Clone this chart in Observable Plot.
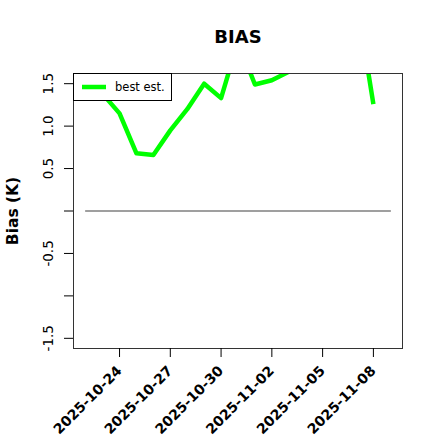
<!DOCTYPE html>
<html>
<head>
<meta charset="utf-8">
<script src="https://cdn.jsdelivr.net/npm/d3@7"></script>
<script src="https://cdn.jsdelivr.net/npm/@observablehq/plot@0.6"></script>
<style>
  html, body { margin: 0; padding: 0; background: #fff; }
  #chart { width: 440px; height: 440px; }
</style>
</head>
<body>
<div id="chart"></div>
<script>
// ---- data ----
const dates = ["2025-10-22","2025-10-23","2025-10-24","2025-10-25","2025-10-26","2025-10-27",
  "2025-10-28","2025-10-29","2025-10-30","2025-10-31","2025-11-01","2025-11-02",
  "2025-11-03","2025-11-04","2025-11-05","2025-11-06","2025-11-07","2025-11-08"];
const bias = [1.55, 1.38, 1.15, 0.68, 0.66, 0.95, 1.20, 1.50, 1.33, 2.00, 1.49, 1.54,
  1.64, 1.90, 2.10, 2.30, 2.50, 1.26];
const zeroDates = ["2025-10-22", "2025-11-09"];
const zeroValues = [0, 0];
const yTicks = [-1.5, -1, -0.5, 0, 0.5, 1, 1.5];
const yTickLabels = ["-1.5", "", "-0.5", "", "0.5", "1.0", "1.5"];
const xTicks = ["2025-10-24","2025-10-27","2025-10-30","2025-11-02","2025-11-05","2025-11-08"];
const yLim = [-1.5, 1.5];
const seriesName = "best est.";
const title = "BIAS";
const yTitle = "Bias (K)";

// ---- build ----
const parse = d3.utcParse("%Y-%m-%d");
const series = dates.map((d, i) => ({date: parse(d), value: bias[i]}));
const zero = zeroDates.map((d, i) => ({date: parse(d), value: zeroValues[i]}));
const xExt = d3.extent(zero, d => d.date);
const xPad = (xExt[1] - xExt[0]) * 0.04;
const yPad = (yLim[1] - yLim[0]) * 0.04;
const labelMap = new Map(yTicks.map((t, i) => [t, yTickLabels[i]]));
const font = "DejaVu Sans, sans-serif";

const plot = Plot.plot({
  width: 440,
  height: 440,
  marginLeft: 73,
  marginRight: 38,
  marginTop: 73,
  marginBottom: 92,
  style: {fontFamily: font, background: "#fff", color: "#000"},
  x: {type: "utc", domain: [new Date(+xExt[0] - xPad), new Date(+xExt[1] + xPad)]},
  y: {domain: [yLim[0] - yPad, yLim[1] + yPad]},
  marks: [
    Plot.line(zero, {x: "date", y: "value", stroke: "#808080", strokeWidth: 1.6}),
    Plot.line(series, {x: "date", y: "value", stroke: "#00ff00", strokeWidth: 4.5,
      strokeLinejoin: "round", strokeLinecap: "butt", clip: true}),
    Plot.frame({stroke: "#333", strokeWidth: 1}),
    Plot.axisY(yTicks, {
      ticks: yTicks, tickSize: 9, tickPadding: 12, tickRotate: -90,
      tickFormat: d => labelMap.get(d), fontSize: 13.5, label: null, stroke: "#000"
    }),
    Plot.axisX(xTicks.map(parse), {
      ticks: xTicks.map(parse), tickSize: 9, tickPadding: 11, tickRotate: -45,
      tickFormat: d3.utcFormat("%Y-%m-%d"), fontSize: 14, fontWeight: "bold",
      label: null, stroke: "#000"
    }),
    Plot.text([title], {frameAnchor: "top", lineAnchor: "middle", dy: -36, fontSize: 18,
      fontWeight: "bold", fill: "#000"}),
    Plot.text([yTitle], {frameAnchor: "left", textAnchor: "middle", lineAnchor: "middle",
      rotate: -90, dx: -60, fontSize: 15.5, fontWeight: "bold", fill: "#000"})
  ]
});
document.getElementById("chart").appendChild(plot);

// ---- legend ----
const svg = d3.select(plot);
const lg = svg.append("g").attr("font-family", font).attr("text-anchor", "start");
lg.append("rect").attr("x", 73.5).attr("y", 73.5).attr("width", 98).attr("height", 27)
  .attr("fill", "#fff").attr("stroke", "#000").attr("stroke-width", 1);
lg.append("line").attr("x1", 82).attr("x2", 106).attr("y1", 87).attr("y2", 87)
  .attr("stroke", "#00ff00").attr("stroke-width", 4.5);
lg.append("text").attr("x", 115).attr("y", 87).attr("dy", "0.35em")
  .attr("font-size", 11.5).attr("fill", "#000").attr("text-anchor", "start").text(seriesName);
</script>
</body>
</html>
